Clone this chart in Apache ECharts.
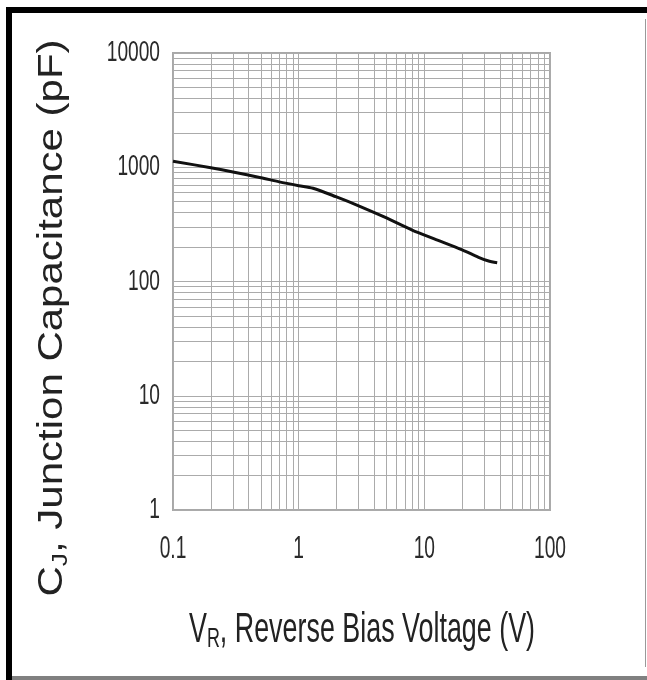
<!DOCTYPE html>
<html>
<head>
<meta charset="utf-8">
<script src="https://cdn.jsdelivr.net/npm/echarts@6/dist/echarts.min.js"></script>
<style>
html,body{margin:0;padding:0;background:#fff;}
#chart{width:647px;height:680px;}
</style>
</head>
<body>
<div id="chart"></div>
<script>
// Data
var voltage = [0.1, 0.2, 0.3, 0.5, 0.7, 1.0, 1.3, 2, 3, 5, 8, 12, 20, 27, 32, 38];
var capacitance = [1130, 990, 910, 810, 745, 690, 655, 550, 460, 360, 282, 236, 189, 163, 152, 146];
var xTickValues = [0.1, 1, 10, 100];
var xTickLabels = ['0.1', '1', '10', '100'];
var yTickValues = [1, 10, 100, 1000, 10000];
var yTickLabels = ['1', '10', '100', '1000', '10000'];
var xDecades = [0.1, 1, 10];
var yDecades = [1, 10, 100, 1000];
var xTitle = ['V', 'R', ', Reverse Bias Voltage (V)'];
var yTitle = ['C', 'J', ', Junction Capacitance (pF)'];

var xGridValues = [];
var yGridValues = [];
xDecades.forEach(function (d) { for (var k = 1; k <= 10; k++) xGridValues.push(+(d * k).toPrecision(3)); });
yDecades.forEach(function (d) { for (var k = 1; k <= 10; k++) yGridValues.push(d * k); });

var chart = echarts.init(document.getElementById('chart'), null, {renderer: 'canvas'});
var arial = "'Liberation Sans', Arial, Helvetica, sans-serif";

var gridLines = [];
xGridValues.forEach(function (v) { gridLines.push({xAxis: v}); });
yGridValues.forEach(function (v) { gridLines.push({yAxis: v}); });

chart.setOption({
  animation: false,
  backgroundColor: '#ffffff',
  grid: {left: 173, top: 53, width: 377, height: 457, show: true, borderColor: '#a8a8a8', borderWidth: 2, backgroundColor: 'transparent'},
  xAxis: {
    type: 'log', logBase: 10, min: 0.1, max: 100,
    axisLine: {show: false}, axisTick: {show: false}, splitLine: {show: false},
    axisLabel: {show: false}
  },
  yAxis: {
    type: 'log', logBase: 10, min: 1, max: 10000,
    axisLine: {show: false}, axisTick: {show: false}, splitLine: {show: false},
    axisLabel: {show: false}
  },
  series: [{
    type: 'line',
    data: voltage.map(function (v, i) { return [v, capacitance[i]]; }),
    smooth: 0.3,
    symbol: 'none',
    lineStyle: {color: '#111', width: 3},
    z: 5,
    markLine: {
      silent: true, symbol: 'none', animation: false,
      label: {show: false},
      lineStyle: {color: '#ababab', width: 1, type: 'solid'},
      data: gridLines,
      z: 1
    }
  }]
});

// Tick labels, condensed like the reference, positioned through the axes' scales
var graphics = [
  {type: 'rect', shape: {x: 6, y: 7, width: 641, height: 6}, style: {fill: '#000'}},
  {type: 'rect', shape: {x: 6, y: 7, width: 6, height: 673}, style: {fill: '#000'}},
  {type: 'rect', shape: {x: 645, y: 19, width: 1, height: 648}, style: {fill: '#999'}},
  {type: 'rect', shape: {x: 12, y: 676, width: 635, height: 4}, style: {fill: '#808080'}}
];
var plotBottom = chart.convertToPixel({yAxisIndex: 0}, yTickValues[0]);
var plotLeft = chart.convertToPixel({xAxisIndex: 0}, xTickValues[0]);
yTickValues.forEach(function (v, i) {
  var py = chart.convertToPixel({yAxisIndex: 0}, v);
  graphics.push({
    type: 'text', x: plotLeft - 13, y: py, scaleX: 0.66,
    style: {text: yTickLabels[i], fontSize: 29, fontFamily: arial, fill: '#2a2a2a', align: 'right', verticalAlign: 'middle'}
  });
});
xTickValues.forEach(function (v, i) {
  var px = chart.convertToPixel({xAxisIndex: 0}, v);
  graphics.push({
    type: 'text', x: px, y: plotBottom + 39, scaleX: 0.6,
    style: {text: xTickLabels[i], fontSize: 32, fontFamily: arial, fill: '#2a2a2a', align: 'center', verticalAlign: 'middle'}
  });
});
graphics.push({
  type: 'text', x: 362, y: 630, scaleX: 0.64,
  style: {
    text: '{a|' + xTitle[0] + '}{s|' + xTitle[1] + '}{a|' + xTitle[2] + '}',
    align: 'center', verticalAlign: 'middle',
    rich: {
      a: {fontSize: 42, fontFamily: arial, fill: '#222', lineHeight: 46, verticalAlign: 'middle'},
      s: {fontSize: 28, fontFamily: arial, fill: '#222', lineHeight: 34, verticalAlign: 'bottom'}
    }
  }
});
graphics.push({
  type: 'text', x: 52, y: 318, rotation: Math.PI / 2, scaleX: 1.2,
  style: {
    text: '{a|' + yTitle[0] + '}{s|' + yTitle[1] + '}{a|' + yTitle[2] + '}',
    align: 'center', verticalAlign: 'middle',
    rich: {
      a: {fontSize: 35, fontFamily: arial, fill: '#222', lineHeight: 40, verticalAlign: 'middle'},
      s: {fontSize: 22, fontFamily: arial, fill: '#222', lineHeight: 30, verticalAlign: 'bottom'}
    }
  }
});
chart.setOption({graphic: graphics});
</script>
</body>
</html>
